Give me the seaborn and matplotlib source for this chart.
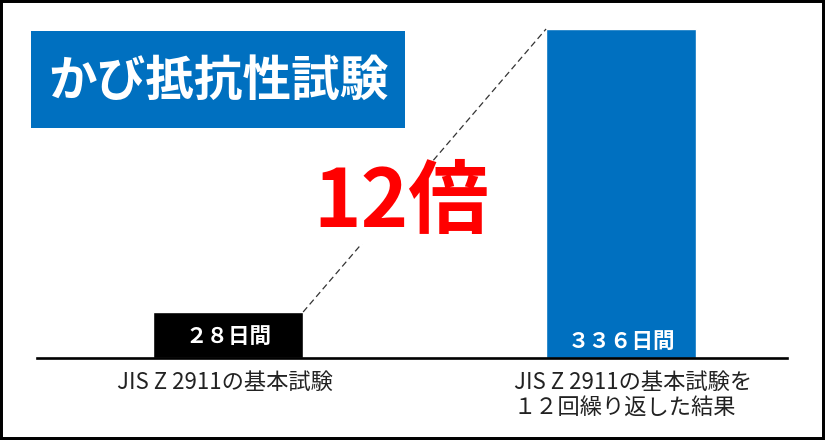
import matplotlib
matplotlib.use("Agg")
import matplotlib.pyplot as plt
from matplotlib.patches import Rectangle
import seaborn as sns

# data
categories = ["JIS Z 2911の基本試験", "JIS Z 2911の基本試験を\n１２回繰り返した結果"]
days = ["２８日間", "３３６日間"]
bar_height = [46, 329]          # drawn heights (the picture is not to scale)
bar_colors = ["#000000", "#0070C0"]
ratio_label = "12倍"
title = "かび抵抗性試験"

sns.set_style("white")
plt.rcParams["font.family"] = ["Noto Sans CJK JP", "DejaVu Sans"]

W, H = 825, 440
fig = plt.figure(figsize=(W / 100, H / 100), dpi=100)
fig.patch.set_facecolor("white")

# axes spans the baseline, 1 data unit = 1 px vertically
ax = fig.add_axes([37 / W, 0, 750 / W, 1])
sns.barplot(x=categories, y=bar_height, hue=categories, palette=bar_colors,
            width=0.382, legend=False, saturation=1, ax=ax)
ax.set_xlim(-0.486, 1.422)
ax.set_ylim(-82, 358)
for s in ["top", "left", "right"]:
    ax.spines[s].set_visible(False)
ax.spines["bottom"].set_position(("data", 0))
ax.spines["bottom"].set_linewidth(1.9)
ax.spines["bottom"].set_color("black")
ax.set_xticks([])
ax.set_yticks([])
ax.set_xlabel("")
ax.set_ylabel("")
ax.patch.set_alpha(0)

bars = ax.patches
# day labels inside bars
for p, lab, dy in zip(bars, days, [22, 17]):
    ax.text(p.get_x() + p.get_width() / 2, dy, lab, ha="center", va="center",
            color="white", fontsize=15.5, fontweight="bold")

# category labels below baseline
for p, lab, dx in zip(bars, categories, [-0.008, 0.03]):
    ax.text(p.get_x() + p.get_width() / 2 + dx, -13, lab, ha="center", va="top",
            multialignment="left", fontsize=16, color="#222222", linespacing=1.1)

# dashed connector from top of small bar to top of big bar
b0, b1 = bars[0], bars[1]
ax.plot([b0.get_x() + b0.get_width(), b1.get_x()],
        [b0.get_height(), b1.get_height()],
        color="#333333", lw=0.9, ls=(0, (5, 3)), zorder=1)

# ratio label (white box hides the connector behind it)
fig.text(401 / W, 1 - 203 / H, ratio_label, ha="center", va="center",
         color="#FF0000", fontsize=58, fontweight="bold",
         bbox=dict(facecolor="white", edgecolor="none", pad=0), zorder=5)

# title box
fig.patches.append(Rectangle((31 / W, 1 - 128 / H), 374 / W, 97 / H,
                             transform=fig.transFigure, facecolor="#0070C0",
                             edgecolor="none", zorder=3))
fig.text(218 / W, 1 - 81 / H, title, ha="center", va="center", color="white",
         fontsize=35, fontweight="bold", zorder=4)

# black frame
fig.patches.append(Rectangle((0, 0), 1, 1, transform=fig.transFigure,
                             facecolor="none", edgecolor="black", lw=4.3,
                             zorder=10))

fig.savefig("out.png", dpi=100)
